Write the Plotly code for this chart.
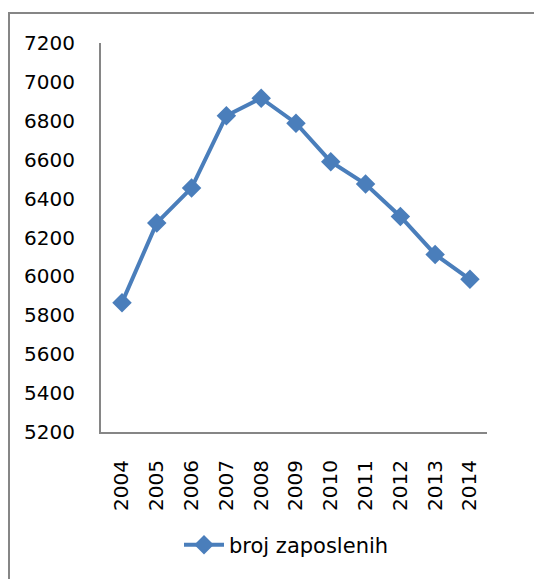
import plotly.graph_objects as go

years = ["2004", "2005", "2006", "2007", "2008", "2009", "2010", "2011", "2012", "2013", "2014"]
employees = [5865, 6275, 6455, 6826, 6916, 6788, 6590, 6475, 6308, 6113, 5985]
series_name = "broj zaposlenih"

OFF = 8  # page body margin
W, H = 542 - OFF, 579 - OFF
L, R, T, B = 101 - OFF, 487 - OFF, 43 - OFF, 432 - OFF
pw, ph = R - L, B - T

def px(x):
    return (x - OFF - L) / pw

def py(y):
    return (B - (y - OFF)) / ph

color = "#4A7EBB"
font = "DejaVu Sans"

fig = go.Figure()
fig.add_trace(go.Scatter(
    x=list(range(len(years))), y=employees, name=series_name,
    mode="lines+markers",
    line=dict(color=color, width=4),
    marker=dict(symbol="diamond", size=15, color=color),
))

fig.update_layout(
    width=W, height=H,
    margin=dict(l=L, r=W - R, t=T, b=H - B, pad=0),
    paper_bgcolor="white", plot_bgcolor="white",
    font=dict(family=font, size=20, color="black"),
    showlegend=True,
    legend=dict(x=px(179), y=py(545), xanchor="left", yanchor="middle",
                font=dict(family=font, size=21, color="black"),
                bgcolor="rgba(0,0,0,0)", itemwidth=40),
    xaxis=dict(
        tickmode="array", tickvals=list(range(len(years))), ticktext=years,
        range=[-0.603, 10.49], showgrid=False, zeroline=False,
        showline=True, linecolor="#868686", linewidth=2,
        ticks="outside", ticklen=18, tickcolor="rgba(0,0,0,0)", tickangle=-90,
        tickfont=dict(family=font, size=20),
    ),
    yaxis=dict(
        range=[5200, 7200], dtick=200, tick0=5200, showgrid=False, zeroline=False,
        showline=True, linecolor="#868686", linewidth=2,
        ticks="outside", ticklen=20, tickcolor="rgba(0,0,0,0)",
        tickfont=dict(family=font, size=20),
    ),
    shapes=[dict(type="rect", xref="paper", yref="paper",
                 x0=px(9), x1=px(620), y0=py(660), y1=py(13),
                 line=dict(color="#868686", width=2), fillcolor="rgba(0,0,0,0)",
                 layer="below")],
)

fig.write_html("out.html")
